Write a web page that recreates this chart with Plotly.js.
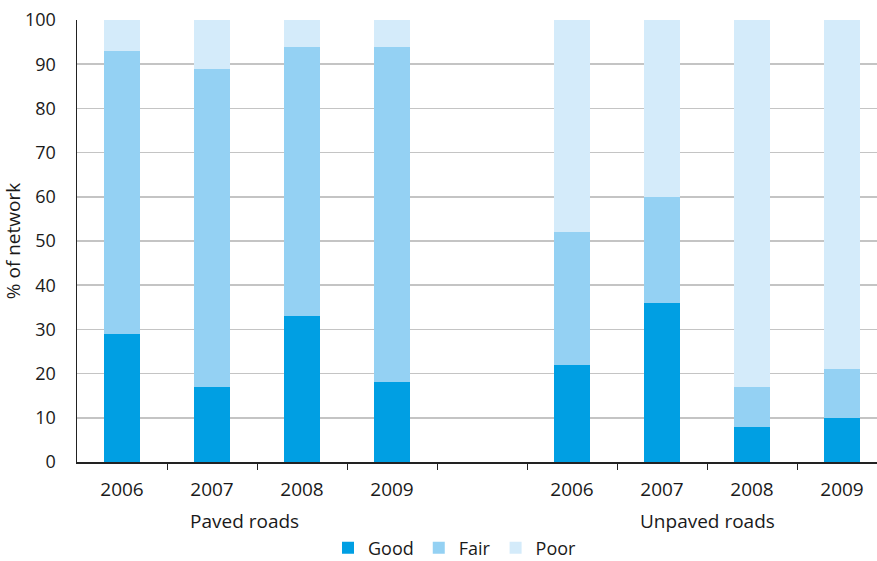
<!DOCTYPE html>
<html>
<head>
<meta charset="utf-8">
<script src="https://cdn.plot.ly/plotly-3.0.1.min.js"></script>
<style>
  html, body { margin: 0; padding: 0; background: #ffffff; }
  #chart { width: 877px; height: 561px; }
</style>
</head>
<body>
<div id="chart"></div>
<script>
// Road network condition, share of network by condition class
const years = ['2006', '2007', '2008', '2009'];
const pavedGood = [29, 17, 33, 18];
const pavedFair = [64, 72, 61, 76];
const pavedPoor = [7, 11, 6, 6];
const unpavedGood = [22, 36, 8, 10];
const unpavedFair = [30, 24, 9, 11];
const unpavedPoor = [48, 40, 83, 79];
const groupNames = ['Paved roads', 'Unpaved roads'];
const conditionNames = ['Good', 'Fair', 'Poor'];
const yTicks = [0, 10, 20, 30, 40, 50, 60, 70, 80, 90, 100];

// Slot positions: four paved years, one empty slot, four unpaved years
const pavedX = years.map((_, i) => i);
const unpavedX = years.map((_, i) => i + years.length + 1);
const xPos = pavedX.concat(unpavedX);
const xLabels = years.concat(years);
const boundaries = xPos.slice(0, -1).map((_, i) => i + 0.5).concat([xPos.length - 0.5]);

const colors = ['#009fe3', '#94d1f3', '#d4ebfa'];
const seriesValues = [
  pavedGood.concat(unpavedGood),
  pavedFair.concat(unpavedFair),
  pavedPoor.concat(unpavedPoor)
];

const FONT = '"Open Sans", "DejaVu Sans", sans-serif';
const TEXT = '#1a1a1a';

const traces = conditionNames.map((name, k) => ({
  type: 'bar',
  name: name,
  x: xPos,
  y: seriesValues[k],
  width: 0.4,
  marker: { color: colors[k], line: { width: 0 } },
  hoverinfo: 'skip'
}));

const W = 877, H = 561;
const plotLeft = 77, plotRight = 877, plotTop = 20, plotBottom = 462, slotPx = 90;
const xMax = -0.5 + (plotRight - plotLeft) / slotPx;

const layout = {
  width: W,
  height: H,
  margin: { l: plotLeft, r: W - plotRight, t: plotTop, b: H - plotBottom, pad: 0, autoexpand: false },
  barmode: 'stack',
  paper_bgcolor: '#ffffff',
  plot_bgcolor: '#ffffff',
  font: { family: FONT, size: 19, color: TEXT },
  showlegend: true,
  legend: {
    orientation: 'h',
    xref: 'container',
    x: 455 / W,
    xanchor: 'center',
    yref: 'container',
    y: (H - 548) / H,
    yanchor: 'middle',
    font: { family: FONT, size: 18, color: TEXT },
    itemwidth: 30,
    borderwidth: 0,
    traceorder: 'normal'
  },
  xaxis: {
    range: [-0.5, xMax],
    tickmode: 'array',
    tickvals: xPos,
    ticktext: xLabels,
    ticks: 'outside',
    ticklen: 10,
    tickcolor: 'rgba(0,0,0,0)',
    minor: {
      tickmode: 'array',
      tickvals: boundaries,
      ticks: 'outside',
      ticklen: 6,
      tickwidth: 1,
      tickcolor: '#222222',
      showgrid: false
    },
    showline: true,
    linecolor: '#222222',
    linewidth: 1.5,
    showgrid: false,
    zeroline: false,
    fixedrange: true,
    tickfont: { family: FONT, size: 19, color: TEXT }
  },
  yaxis: {
    range: [0, 100],
    tickmode: 'array',
    tickvals: yTicks,
    ticks: 'outside',
    ticklen: 16,
    tickcolor: 'rgba(0,0,0,0)',
    showline: true,
    linecolor: '#222222',
    linewidth: 1.5,
    showgrid: true,
    gridcolor: '#c4c4c4',
    gridwidth: 1.5,
    zeroline: false,
    fixedrange: true,
    tickfont: { family: FONT, size: 18, color: TEXT },
    title: { text: '% of network', font: { family: FONT, size: 19, color: TEXT }, standoff: 4 }
  },
  annotations: [
    {
      text: groupNames[0], xref: 'x', yref: 'paper',
      x: (244 - plotLeft) / slotPx - 0.5, y: 0, yshift: -59,
      xanchor: 'center', yanchor: 'middle', showarrow: false,
      font: { family: FONT, size: 19, color: TEXT }
    },
    {
      text: groupNames[1], xref: 'x', yref: 'paper',
      x: (unpavedX[1] + unpavedX[2]) / 2, y: 0, yshift: -59,
      xanchor: 'center', yanchor: 'middle', showarrow: false,
      font: { family: FONT, size: 19, color: TEXT }
    }
  ]
};

Plotly.newPlot('chart', traces, layout, { displayModeBar: false, staticPlot: true });
</script>
</body>
</html>
